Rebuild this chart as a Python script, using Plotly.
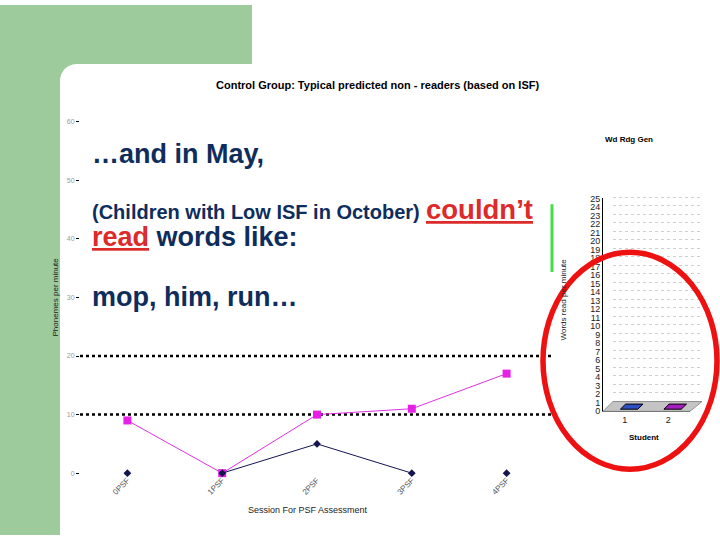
import plotly.graph_objects as go

W, H = 720, 540
def X(px): return px / W
def Y(py): return 1 - py / H

FONT = "Liberation Sans, Arial, sans-serif"
NAVY_TXT = "#0f2d5c"
RED = "#dd2a2a"
GREEN_BG = "#9dcb9b"

# ---------------- data ----------------
sessions = ["0PSF", "1PSF", "2PSF", "3PSF", "4PSF"]
student_a_psf = [9, 0, 10, 11, 17]          # magenta squares
student_b_psf = [0, 0, 5, 0, 0]            # navy diamonds
student_b_connected = [False, True, True, True, False]
reference_levels = [10, 20]
main_yticks = [0, 10, 20, 30, 40, 50, 60]

students = [1, 2]
words_per_minute = [0, 0]
bar_colors = ["#2f4fc4", "#a51fc0"]
wrg_yticks = list(range(0, 26))

fig = go.Figure()

xi = list(range(len(sessions)))
fig.add_trace(go.Scatter(
    x=xi, y=student_a_psf, mode="lines+markers",
    line=dict(color="#e030e0", width=1),
    marker=dict(symbol="square", size=8, color="#e620e6"),
    cliponaxis=False, showlegend=False))
fig.add_trace(go.Scatter(
    x=xi, y=[v if c else None for v, c in zip(student_b_psf, student_b_connected)],
    mode="lines", line=dict(color="#141450", width=1),
    connectgaps=False, showlegend=False))
fig.add_trace(go.Scatter(
    x=xi, y=student_b_psf, mode="markers",
    marker=dict(symbol="diamond", size=6, color="#141450"),
    cliponaxis=False, showlegend=False))

# reference dotted lines
shapes = []
for lv in reference_levels:
    shapes.append(dict(type="line", xref="x domain", yref="y", x0=0, x1=1, y0=lv, y1=lv,
                       line=dict(color="black", width=2.5, dash="dot"), layer="below"))

# ---------------- right mini chart (3D-like bars) ----------------
depth_dx, depth_dy = 0.12, 0.6
base = 0.25
for s, v, col in zip(students, words_per_minute, bar_colors):
    x0, x1 = s - 0.1, s + 0.3
    yv = v + base
    fig.add_trace(go.Scatter(
        x=[x0, x1, x1 + depth_dx, x0 + depth_dx, x0],
        y=[yv, yv, yv + depth_dy, yv + depth_dy, yv],
        mode="lines", fill="toself", fillcolor=col,
        line=dict(color="black", width=1),
        xaxis="x2", yaxis="y2", showlegend=False, hoverinfo="skip"))
# invisible trace for back-wall grid axes
fig.add_trace(go.Scatter(x=[0], y=[0], mode="markers", marker=dict(opacity=0),
                         xaxis="x3", yaxis="y3", showlegend=False, hoverinfo="skip"))

# background (slide)
R = 17
shapes += [
    dict(type="rect", xref="paper", yref="paper", x0=X(0), x1=X(252), y0=Y(60), y1=Y(0),
         fillcolor=GREEN_BG, line=dict(width=0), layer="below"),
    dict(type="rect", xref="paper", yref="paper", x0=X(0), x1=X(60), y0=Y(540), y1=Y(0),
         fillcolor=GREEN_BG, line=dict(width=0), layer="below"),
    dict(type="rect", xref="paper", yref="paper", x0=X(60), x1=X(60 + R), y0=Y(60 + R), y1=Y(60),
         fillcolor=GREEN_BG, line=dict(width=0), layer="below"),
    dict(type="circle", xref="paper", yref="paper", x0=X(60), x1=X(60 + 2 * R),
         y0=Y(60 + 2 * R), y1=Y(60), fillcolor="white", line=dict(width=0), layer="below"),
]
# floor of the mini chart
floor = "M {} {} L {} {} L {} {} L {} {} Z".format(
    X(603), Y(414), X(690), Y(414), X(702), Y(404), X(613), Y(404))
shapes.append(dict(type="path", xref="paper", yref="paper", path=floor,
                   fillcolor="#c4c4c4", line=dict(color="#909090", width=1), layer="below"))
# green vertical bar
shapes.append(dict(type="line", xref="paper", yref="paper", x0=X(552), x1=X(552),
                   y0=Y(272), y1=Y(203), line=dict(color="#44dd44", width=3)))
# red ellipse
shapes.append(dict(type="circle", xref="paper", yref="paper", x0=X(543), x1=X(717),
                   y0=Y(473), y1=Y(252), line=dict(color="#ee1111", width=5.5), layer="above"))

ann = []
def text(x, y, t, size, color="black", anchor="left", angle=0):
    ann.append(dict(x=X(x), y=Y(y), xref="paper", yref="paper", text=t, showarrow=False,
                    xanchor=anchor, yanchor="middle", textangle=angle,
                    font=dict(family=FONT, size=size, color=color)))

text(377, 82, "<b>Control Group: Typical predicted non - readers (based on ISF)</b>", 11, anchor="center")
text(55, 298, "Phonemes per minute", 8, color="#222", anchor="center", angle=-90)
text(308, 515, "Session For PSF Assessment", 9, color="#222", anchor="center")
text(629, 137, "<b>Wd Rdg Gen</b>", 8, anchor="center")
text(563, 300, "Words read per minute", 8, color="#222", anchor="center", angle=-90)
text(644, 441, "<b>Student</b>", 8, anchor="center")

text(90, 152, "<b>…and in May,</b>", 27, color=NAVY_TXT)
text(90, 211, "<b>(Children with Low ISF in October)</b>", 20, color=NAVY_TXT)
text(424, 208, "<b><u>couldn’t</u></b>", 27.5, color=RED)
text(90, 236, "<b><u>read</u></b><b><span style='color:%s'> words like:</span></b>" % NAVY_TXT, 27, color=RED)
text(90, 297, "<b>mop, him, run…</b>", 27, color=NAVY_TXT)

fig.update_layout(
    width=W, height=H, margin=dict(l=0, r=0, t=0, b=0),
    paper_bgcolor="white", plot_bgcolor="rgba(0,0,0,0)",
    font=dict(family=FONT), hovermode=False,
    shapes=shapes, annotations=ann, showlegend=False,
    xaxis=dict(domain=[X(80), X(554)], range=[-0.5, 4.5], tickvals=xi, ticktext=sessions,
               tickangle=-45, ticks="", showgrid=False, zeroline=False, showline=False,
               tickfont=dict(size=8, color="#555"), anchor="y"),
    yaxis=dict(domain=[Y(477), Y(119)], range=[0, 60], tickvals=main_yticks,
               ticks="outside", ticklen=3, tickcolor="black", showgrid=False, zeroline=False,
               showline=False, tickfont=dict(size=7, color="#999"), anchor="x"),
    xaxis2=dict(domain=[X(603), X(690)], range=[0.5, 2.5], tickvals=students,
                ticks="", showgrid=False, zeroline=False, showline=True, linecolor="#777",
                tickfont=dict(size=9, color="#222"), anchor="y2"),
    yaxis2=dict(domain=[Y(414), Y(197)], range=[0, 25], tickvals=wrg_yticks,
                ticks="", showgrid=False, zeroline=False, showline=True, linecolor="black",
                tickfont=dict(size=9, color="#222"), anchor="x2"),
    xaxis3=dict(domain=[X(613), X(703)], range=[0, 1], visible=False, anchor="y3"),
    yaxis3=dict(domain=[Y(404), Y(187)], range=[0, 25], tickvals=wrg_yticks,
                showticklabels=False, ticks="", showgrid=True, gridcolor="#cfcfcf",
                griddash="dot", gridwidth=1, zeroline=False, showline=False, anchor="x3"),
)

post = ("document.documentElement.style.margin='0';document.body.style.margin='0';"
        "document.body.style.padding='0';document.body.style.overflow='hidden';"
        "var gd=document.getElementById('{plot_id}');gd.style.position='fixed';"
        "gd.style.left='0px';gd.style.top='0px';")
fig.write_html("out.html", post_script=post,
               config={"displayModeBar": False, "responsive": False, "staticPlot": True})
